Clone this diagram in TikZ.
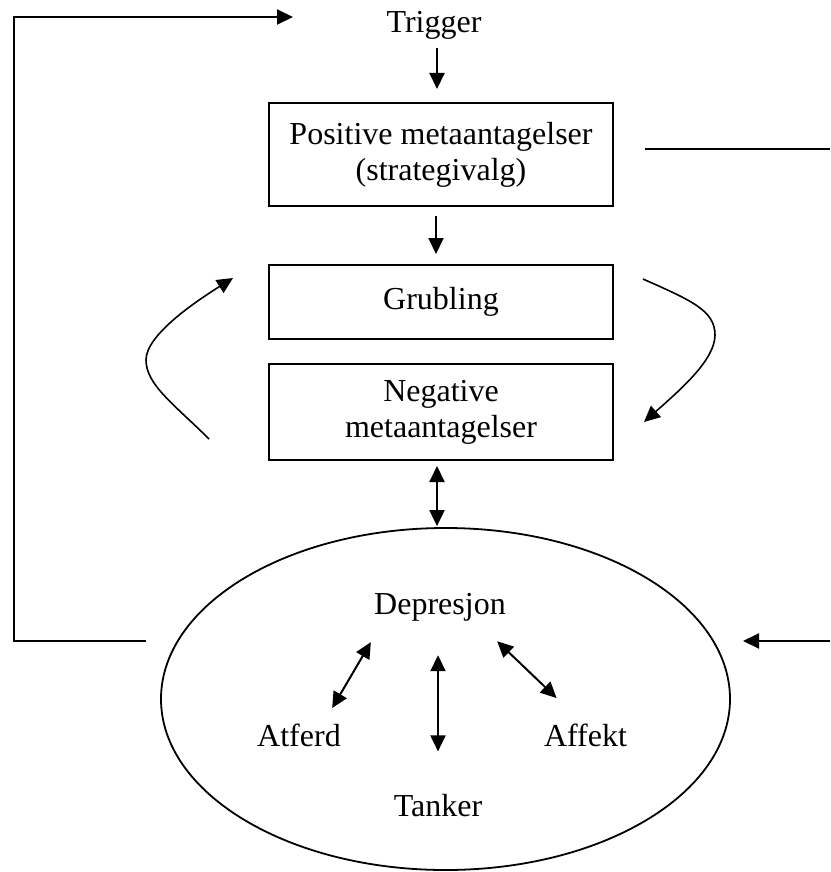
\documentclass[tikz,border=0pt]{standalone}
\usepackage{fontspec}
\setmainfont{Liberation Serif}
\usetikzlibrary{arrows.meta,shapes.geometric}
\begin{document}
\begin{tikzpicture}[x=0.5pt,y=-0.5pt,
  every node/.style={font=\fontsize{16}{18}\selectfont, inner sep=0pt},
  boxnode/.style={draw, line width=1pt, minimum width=172pt, align=center},
  lbl/.style={anchor=base},
  tip/.style={Triangle[length=8pt,width=7.5pt]},
  arr/.style={line width=1pt, -{Triangle[length=8pt,width=7.5pt]}},
  dbl/.style={line width=1pt, {Triangle[length=8pt,width=7.5pt]}-{Triangle[length=8pt,width=7.5pt]}},
  curvearr/.style={line width=0.8pt, -{Triangle[length=8pt,width=7.5pt]}},
  ln/.style={line width=1pt}]
\useasboundingbox (0,0) rectangle (830,872);

% nodes
\node[lbl] (trig) at (434,33) {Trigger};
\node[boxnode, minimum height=51.5pt] (b1) at (441,154.5) {Positive metaantagelser\\(strategivalg)};
\node[boxnode, minimum height=37pt] (b2) at (441,302) {Grubling};
\node[boxnode, minimum height=48pt] (b3) at (441,412) {Negative\\metaantagelser};
\node[ellipse, draw, line width=0.9pt, minimum width=284.5pt, minimum height=171pt] (dep) at (445.5,699) {};
\node[lbl] (dtext) at (440,614) {Depresjon};
\node[lbl] (atf) at (299,746) {Atferd};
\node[lbl] (aff) at (585.5,746) {Affekt};
\node[lbl] (tank) at (438,816) {Tanker};

% vertical arrows
\draw[arr] ([shift={(3,8)}]trig.south) -- ([shift={(-4,-13)}]b1.north);
\draw[arr] ([shift={(-5,9)}]b1.south) -- ([shift={(-5,-10)}]b2.north);
\draw[dbl] ([shift={(-4,5)}]b3.south) -- ([shift={(-8.5,-1)}]dep.north);

% arrows inside the ellipse
\draw[dbl] ([shift={(-3,21)}]dtext.south west) -- ([shift={(-9,-15)}]atf.north east);
\draw[dbl] ([shift={(-2,34)}]dtext.south) -- ([shift={(0,-42)}]tank.north);
\draw[dbl] ([shift={(-9,20)}]dtext.south east) -- ([shift={(13,-25)}]aff.north west);

% outer loop on the left
\coordinate (lstart) at (146,641);
\coordinate (lend) at (293,17);
\draw[arr] (lstart) -- ++(-132,0) |- (lend);

% lines on the right
\coordinate (rA) at (645,149);
\coordinate (rB) at (830,149);
\draw[ln] (rA) -- (rB);
\coordinate (rC) at (830,641);
\coordinate (rD) at (743,641);
\draw[arr] (rC) -- (rD);

% curved arrows
\coordinate (lc1) at (209,439);
\coordinate (lc2) at (233,278);
\draw[curvearr] (lc1) .. controls (175,405) and (146,385) .. (146,360)
  .. controls (146,335) and (195,302) .. (lc2);
\coordinate (rc1) at (643,279);
\coordinate (rc2) at (644,422);
\draw[curvearr] (rc1) .. controls (690,300) and (715,310) .. (715,335)
  .. controls (715,360) and (680,390) .. (rc2);
\end{tikzpicture}
\end{document}
